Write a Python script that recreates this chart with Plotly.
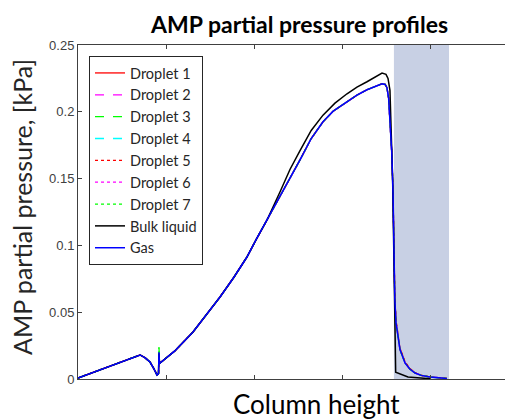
import plotly.graph_objects as go

# ---- data ----
x_gas = [0.0, 0.35, 0.705, 0.76, 0.818, 0.86, 0.898, 0.915, 0.92, 0.925,
         0.932, 1.1, 1.307, 1.45, 1.614, 1.77, 1.920, 2.03, 2.148, 2.27,
         2.386, 2.523, 2.65, 2.784, 2.9, 3.057, 3.17, 3.284, 3.37, 3.455,
         3.49, 3.511, 3.53, 3.545, 3.565, 3.580, 3.586, 3.591, 3.60, 3.614,
         3.635, 3.659, 3.716, 3.77, 3.83, 3.9, 4.0, 4.1, 4.193]
y_gas = [0.0007, 0.0095, 0.018, 0.016, 0.0127, 0.008, 0.003, 0.004, 0.020, 0.013,
         0.012, 0.021, 0.0352, 0.047, 0.0614, 0.076, 0.0913, 0.105, 0.119, 0.133,
         0.1467, 0.164, 0.18, 0.1925, 0.2005, 0.2075, 0.2125, 0.2165, 0.219, 0.221,
         0.2205, 0.218, 0.21, 0.196, 0.17, 0.139, 0.11, 0.079, 0.06, 0.042,
         0.031, 0.022, 0.012, 0.0075, 0.0045, 0.0027, 0.0015, 0.0008, 0.0004]

y_d1 = [0.0007, 0.0095, 0.018, 0.016, 0.0127, 0.008, 0.003, 0.004, 0.018, 0.013,
        0.012, 0.021, 0.0352, 0.047, 0.0614, 0.076, 0.0913, 0.105, 0.119, 0.133,
        0.1467, 0.164, 0.18, 0.1925, 0.2005, 0.2075, 0.2125, 0.2165, 0.219, 0.221,
        0.2205, 0.218, 0.21, 0.196, 0.17, 0.139, 0.11, 0.080, 0.061, 0.043,
        0.032, 0.023, 0.0125, 0.0078, 0.0046, 0.0027, 0.0015, 0.0008, 0.0004]
y_d2 = [0.0007, 0.0095, 0.018, 0.016, 0.0127, 0.008, 0.003, 0.004, 0.021, 0.013,
        0.012, 0.021, 0.0352, 0.047, 0.0614, 0.076, 0.0913, 0.105, 0.119, 0.133,
        0.1467, 0.164, 0.18, 0.1925, 0.2005, 0.2075, 0.2125, 0.2165, 0.219, 0.221,
        0.2205, 0.218, 0.21, 0.196, 0.17, 0.139, 0.11, 0.079, 0.06, 0.042,
        0.031, 0.022, 0.012, 0.0075, 0.0045, 0.0027, 0.0015, 0.0008, 0.0004]
y_d3 = [0.0007, 0.0095, 0.018, 0.016, 0.0127, 0.008, 0.003, 0.004, 0.025, 0.013,
        0.012, 0.021, 0.0352, 0.047, 0.0614, 0.076, 0.0913, 0.105, 0.119, 0.133,
        0.1467, 0.164, 0.18, 0.1925, 0.2005, 0.2075, 0.2125, 0.2165, 0.219, 0.221,
        0.2205, 0.218, 0.21, 0.196, 0.17, 0.139, 0.11, 0.079, 0.06, 0.042,
        0.031, 0.022, 0.012, 0.0075, 0.0045, 0.0027, 0.0015, 0.0008, 0.0004]
y_d4 = [0.0007, 0.0095, 0.018, 0.016, 0.0127, 0.008, 0.003, 0.004, 0.022, 0.013,
        0.012, 0.021, 0.0352, 0.047, 0.0614, 0.076, 0.0913, 0.105, 0.119, 0.133,
        0.1467, 0.164, 0.18, 0.1925, 0.2005, 0.2075, 0.2125, 0.2165, 0.219, 0.221,
        0.2205, 0.218, 0.21, 0.196, 0.17, 0.139, 0.11, 0.079, 0.06, 0.042,
        0.031, 0.022, 0.012, 0.0075, 0.0045, 0.0027, 0.0015, 0.0008, 0.0004]
y_d5 = [0.0007, 0.0095, 0.018, 0.016, 0.0127, 0.008, 0.003, 0.004, 0.017, 0.013,
        0.012, 0.021, 0.0352, 0.047, 0.0614, 0.076, 0.0913, 0.105, 0.119, 0.133,
        0.1467, 0.164, 0.18, 0.1925, 0.2005, 0.2075, 0.2125, 0.2165, 0.219, 0.221,
        0.2205, 0.218, 0.21, 0.196, 0.17, 0.139, 0.11, 0.081, 0.062, 0.044,
        0.032, 0.023, 0.013, 0.0079, 0.0047, 0.0028, 0.0015, 0.0008, 0.0004]
y_d6 = [0.0007, 0.0095, 0.018, 0.016, 0.0127, 0.008, 0.003, 0.004, 0.020, 0.013,
        0.012, 0.021, 0.0352, 0.047, 0.0614, 0.076, 0.0913, 0.105, 0.119, 0.133,
        0.1467, 0.164, 0.18, 0.1925, 0.2005, 0.2075, 0.2125, 0.2165, 0.219, 0.221,
        0.2205, 0.218, 0.21, 0.196, 0.17, 0.139, 0.11, 0.079, 0.06, 0.042,
        0.031, 0.022, 0.012, 0.0075, 0.0045, 0.0027, 0.0015, 0.0008, 0.0004]
y_d7 = [0.0007, 0.0095, 0.018, 0.016, 0.0127, 0.008, 0.003, 0.004, 0.024, 0.013,
        0.012, 0.021, 0.0352, 0.047, 0.0614, 0.076, 0.0913, 0.105, 0.119, 0.133,
        0.1467, 0.164, 0.18, 0.1925, 0.2005, 0.2075, 0.2125, 0.2165, 0.219, 0.221,
        0.2205, 0.218, 0.21, 0.196, 0.17, 0.139, 0.11, 0.079, 0.06, 0.042,
        0.031, 0.022, 0.012, 0.0075, 0.0045, 0.0027, 0.0015, 0.0008, 0.0004]

x_bulk = [0.0, 0.35, 0.705, 0.76, 0.818, 0.86, 0.898, 0.915, 0.92, 0.925,
          0.932, 1.1, 1.307, 1.45, 1.614, 1.77, 1.920, 2.03, 2.148, 2.295,
          2.41, 2.523, 2.65, 2.784, 2.92, 3.057, 3.17, 3.284, 3.37, 3.455,
          3.50, 3.523, 3.545, 3.575, 3.59, 3.60, 3.61, 3.75, 3.90, 4.0]
y_bulk = [0.0007, 0.0095, 0.018, 0.016, 0.0127, 0.008, 0.003, 0.004, 0.019, 0.013,
          0.012, 0.021, 0.0352, 0.047, 0.0614, 0.076, 0.0913, 0.105, 0.119, 0.140,
          0.157, 0.171, 0.186, 0.1975, 0.2065, 0.2135, 0.2185, 0.2225, 0.2258, 0.229,
          0.228, 0.225, 0.216, 0.150, 0.090, 0.054, 0.005, 0.0015, 0.0005, 0.0002]

droplet_names = ["Droplet 1", "Droplet 2", "Droplet 3", "Droplet 4",
                 "Droplet 5", "Droplet 6", "Droplet 7"]
droplet_values = [y_d1, y_d2, y_d3, y_d4, y_d5, y_d6, y_d7]

shade_range = [3.59, 4.216]
y_ticks = [0, 0.05, 0.1, 0.15, 0.2, 0.25]
y_tick_labels = ["0", "0.05", "0.1", "0.15", "0.2", "0.25"]

# ---- styles ----
droplet_colors = ["#ff0000", "#ff00ff", "#00ff00", "#00ffff", "#ff0000", "#ff00ff", "#00ff00"]
droplet_dash = ["solid", "dash", "dash", "dash", "dot", "dot", "dot"]

fig = go.Figure()
for name, vals, c, d in zip(droplet_names, droplet_values, droplet_colors, droplet_dash):
    fig.add_trace(go.Scatter(x=x_gas, y=vals, mode="lines", name=name,
                             line=dict(color=c, dash=d, width=1.3)))
fig.add_trace(go.Scatter(x=x_bulk, y=y_bulk, mode="lines", name="Bulk liquid",
                         line=dict(color="#000000", width=1.5)))
fig.add_trace(go.Scatter(x=x_gas, y=y_gas, mode="lines", name="Gas",
                         line=dict(color="#0000ff", width=1.5)))

fig.add_shape(type="rect", xref="x", yref="y", x0=shade_range[0], x1=shade_range[1],
              y0=0, y1=0.25, fillcolor="#c8d0e4", line=dict(width=0), layer="below")

# page has an 8px body margin: figure is placed at (8, 8) in the window
OFF = 8
W, H = 513 - OFF, 420 - OFF
L, R, T, B = 78 - OFF, 0, 45 - OFF, 420 - 379
pw, ph = W - L - R, H - T - B

def px(xp):
    return (xp - OFF - L) / pw

def py(yp):
    return (H - B - (yp - OFF)) / ph

fig.update_layout(
    width=W, height=H,
    margin=dict(l=L, r=R, t=T, b=B, autoexpand=False),
    plot_bgcolor="white", paper_bgcolor="white",
    showlegend=True,
    legend=dict(x=px(89), y=py(56), xanchor="left", yanchor="top",
                bgcolor="white", bordercolor="#262626", borderwidth=1,
                font=dict(family="Lato", size=14.5, color="#262626"),
                tracegroupgap=0, itemwidth=30),
    xaxis=dict(range=[0, (513 - 78) / 88.0], tickvals=[1, 2, 3, 4], showticklabels=False,
               ticks="inside", ticklen=4, tickcolor="#404040",
               showline=True, linecolor="#404040", linewidth=1, mirror="allticks",
               showgrid=False, zeroline=False, fixedrange=True),
    yaxis=dict(range=[0, 0.25], tickvals=y_ticks, ticktext=y_tick_labels,
               ticks="inside", ticklen=4, tickcolor="#404040",
               tickfont=dict(family="Liberation Sans", size=13, color="#404040"),
               showline=True, linecolor="#404040", linewidth=1,
               showgrid=False, zeroline=False, fixedrange=True),
    annotations=[
        dict(text="<b>AMP partial pressure profiles</b>", xref="paper", yref="paper",
             x=px(299), y=py(24), xanchor="center", yanchor="middle", showarrow=False,
             font=dict(family="Lato", size=23, color="#000000")),
        dict(text="Column height", xref="paper", yref="paper",
             x=px(316), y=py(404), xanchor="center", yanchor="middle", showarrow=False,
             font=dict(family="Lato", size=26, color="#000000")),
        dict(text="AMP partial pressure, [kPa]", xref="paper", yref="paper",
             x=px(22), y=py(207), xanchor="center", yanchor="middle", showarrow=False,
             textangle=-90, font=dict(family="Lato", size=25, color="#262626")),
    ],
)

fig.write_html("out.html")
